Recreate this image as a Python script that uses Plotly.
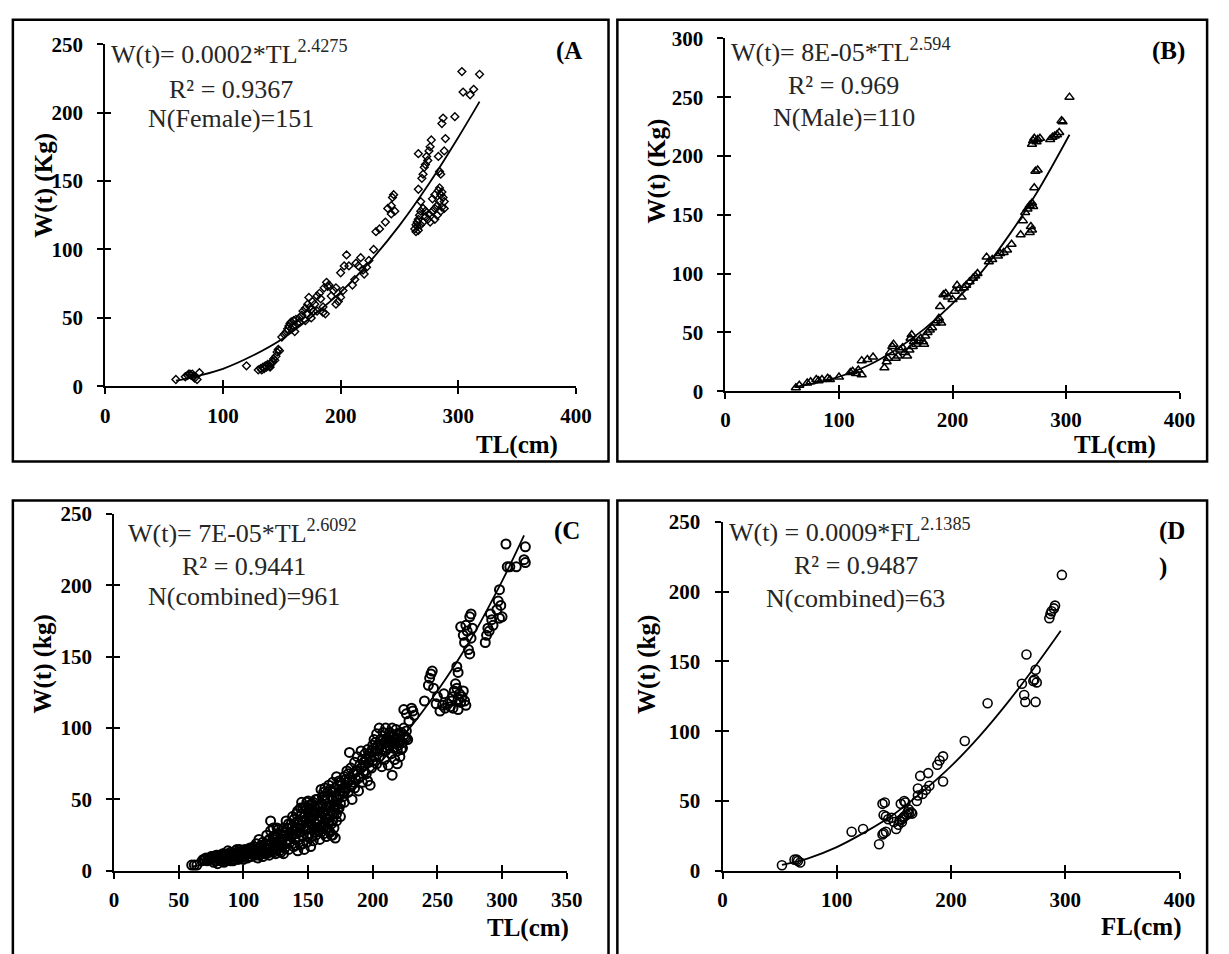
import plotly.graph_objects as go

W_PX, H_PX = 1229, 954


def px(x):
    return x / W_PX


def py(y):
    return 1 - y / H_PX


FONT = "Liberation Serif, Times New Roman, serif"

# ---------------- data ----------------
# (A) Female: TL (cm), W (kg)
female_pts = [
    (60, 5), (68, 7), (70, 8), (71, 9), (72, 9), (73, 8), (74, 9), (75, 7), (76, 6), (78, 5), (80, 10),
    (120, 15),
    (130, 12), (132, 13), (133, 12), (134, 14), (135, 13), (136, 15), (137, 14), (138, 16), (140, 15),
    (140, 14), (141, 17), (142, 18), (143, 20), (144, 19), (145, 22), (146, 25), (147, 27), (148, 26),
    (150, 36), (152, 38), (154, 40), (155, 42), (156, 44), (157, 46), (158, 47), (158, 42), (160, 48),
    (160, 44), (161, 40), (162, 49), (163, 46), (165, 47),
    (165, 50), (167, 52), (168, 55), (170, 57), (170, 48), (171, 53), (172, 60), (173, 65), (174, 58),
    (175, 56), (175, 50), (176, 62), (177, 55), (178, 60), (180, 66), (180, 55), (182, 68), (183, 64),
    (185, 58), (185, 54), (186, 72), (187, 53), (188, 76), (189, 73),
    (190, 74), (192, 66), (194, 70), (196, 72), (196, 60), (198, 62), (200, 65), (200, 83), (202, 70),
    (203, 88), (205, 96), (207, 88), (210, 74), (212, 78), (213, 90), (215, 88), (217, 94), (219, 85),
    (220, 82), (222, 87), (224, 92),
    (228, 100), (230, 113), (233, 115), (238, 120), (240, 130), (243, 132), (244, 138), (245, 140),
    (246, 128), (243, 126),
    (263, 115), (264, 118), (265, 120), (266, 122), (267, 125), (268, 128), (265, 117), (264, 113),
    (266, 114), (268, 118), (270, 120), (272, 124), (275, 126), (278, 128), (280, 130), (282, 132),
    (284, 135), (285, 140), (286, 142), (287, 138), (288, 130), (280, 122), (282, 125), (285, 128),
    (286, 131), (288, 135), (283, 143), (284, 145), (280, 140), (278, 137), (276, 120), (274, 122),
    (272, 128), (270, 130), (266, 144), (268, 135), (270, 155), (271, 160), (272, 162), (273, 168),
    (274, 165), (275, 172), (276, 175), (277, 180), (266, 170), (269, 152), (283, 168), (284, 157),
    (285, 155), (286, 192), (287, 196), (288, 172), (289, 181), (297, 197), (303, 230), (304, 215),
    (310, 213), (313, 217), (318, 228),
]

# (B) Male: TL (cm), W (kg)
male_pts = [
    (62, 3), (65, 5), (72, 7), (75, 8), (80, 10), (82, 9), (85, 10), (90, 11), (92, 10), (100, 12),
    (110, 16), (112, 17), (115, 15), (117, 18), (120, 14), (120, 26), (125, 27), (130, 29),
    (140, 20), (142, 25), (143, 28), (145, 33), (147, 38), (148, 40), (150, 28), (152, 30), (154, 35),
    (156, 37), (158, 33), (160, 30), (162, 35), (163, 45), (164, 48), (165, 38), (166, 42), (168, 40),
    (170, 43), (172, 45), (174, 42), (175, 40), (176, 47), (178, 50), (180, 52), (182, 54), (185, 58),
    (187, 60), (188, 62), (189, 72), (190, 58), (192, 82), (194, 83), (196, 80), (200, 78), (202, 85),
    (204, 90), (206, 87), (208, 80), (210, 88), (212, 90), (215, 93), (218, 96), (220, 98), (222, 100),
    (230, 114), (232, 110), (235, 112), (240, 115), (242, 117), (245, 118), (248, 120), (252, 125),
    (260, 133), (262, 145), (264, 152), (266, 155), (268, 158), (270, 160), (271, 157), (269, 140),
    (268, 135), (270, 137), (272, 173), (273, 187), (275, 188), (270, 210), (271, 213), (272, 215),
    (274, 212), (275, 214), (277, 215), (286, 214), (288, 216), (290, 217), (292, 218), (294, 220),
    (296, 230), (297, 229), (303, 250),
]

# (C) Combined: TL (cm), W (kg)
combined_tl_pts = [
    (60, 4), (62, 4), (64, 4), (68, 7), (70, 8), (72, 7), (74, 9), (75, 8), (76, 10), (78, 9), (79, 7),
    (80, 11), (81, 8), (82, 10), (83, 9), (84, 12), (85, 8), (86, 11), (87, 10), (88, 12), (89, 9),
    (90, 13), (91, 10), (92, 12), (93, 8), (94, 14), (95, 11), (96, 13), (97, 9), (98, 12), (99, 10),
    (100, 14), (100, 8), (77, 6), (85, 6), (92, 7), (88, 14), (95, 15), (80, 5), (90, 7), (97, 15),
    (69, 8), (71, 9), (73, 8), (75, 10), (77, 9), (79, 11), (81, 10), (83, 11), (85, 12), (87, 9),
    (89, 11), (91, 12), (93, 11), (95, 12), (97, 11), (99, 13), (82, 7), (86, 7), (90, 9), (94, 10),
    (98, 9), (96, 8), (84, 10), (88, 8),
    (101, 11), (102, 13), (103, 9), (104, 15), (105, 12), (106, 10), (107, 14), (108, 17), (109, 11),
    (110, 13), (110, 19), (111, 9), (112, 15), (113, 12), (114, 18), (115, 20), (115, 10), (116, 14),
    (117, 16), (118, 12), (119, 21), (120, 18), (120, 11), (121, 35), (121, 28), (122, 14), (123, 24),
    (124, 16), (125, 20), (125, 12), (126, 26), (127, 18), (128, 14), (129, 22), (130, 17), (130, 28),
    (131, 12), (132, 25), (133, 19), (134, 30), (135, 15), (123, 30), (127, 29), (105, 16), (112, 22),
    (118, 25),
    (101, 15), (103, 12), (104, 10), (106, 13), (107, 16), (108, 12), (109, 15), (111, 14), (112, 11),
    (113, 17), (114, 13), (116, 12), (117, 19), (118, 15), (119, 13), (120, 22), (121, 16), (122, 20),
    (123, 13), (124, 22), (126, 15), (127, 21), (128, 18), (129, 13), (130, 21), (131, 24), (132, 16),
    (133, 27), (134, 22), (135, 25), (135, 33), (133, 35), (131, 30), (129, 26), (126, 30),
    (136, 20), (137, 33), (138, 26), (138, 38), (139, 17), (140, 30), (140, 22), (141, 40), (142, 14),
    (142, 35), (143, 27), (144, 44), (144, 18), (145, 32), (145, 48), (146, 24), (147, 38), (147, 15),
    (148, 45), (148, 29), (149, 20), (150, 41), (150, 34), (150, 49), (151, 26), (152, 43), (152, 17),
    (153, 37), (154, 21), (154, 48), (155, 30), (155, 40), (156, 25), (156, 50), (157, 35), (157, 45),
    (158, 28), (159, 41), (159, 22), (160, 38), (160, 57), (161, 32), (161, 47), (162, 26), (162, 55),
    (163, 43), (163, 58), (164, 36), (164, 24), (165, 50), (165, 30), (166, 45), (166, 60), (167, 27),
    (167, 38), (168, 52), (168, 33), (169, 25), (169, 62), (170, 46), (170, 40), (171, 58), (171, 23),
    (172, 66), (172, 35), (173, 50), (174, 63), (174, 44), (175, 56), (175, 47), (153, 24), (146, 35),
    (149, 43), (143, 22), (139, 28),
    (136, 27), (137, 24), (138, 31), (139, 36), (140, 18), (141, 26), (142, 42), (143, 33), (144, 30),
    (145, 40), (146, 44), (146, 19), (147, 31), (148, 36), (149, 48), (150, 24), (150, 30), (151, 38),
    (151, 46), (152, 33), (153, 29), (153, 47), (154, 42), (155, 27), (155, 45), (156, 33), (156, 40),
    (157, 30), (157, 50), (158, 44), (158, 36), (159, 31), (160, 27), (160, 45), (161, 37), (161, 52),
    (162, 41), (162, 30), (163, 34), (163, 50), (164, 45), (164, 29), (165, 37), (165, 55), (166, 28),
    (166, 34), (167, 46), (167, 57), (168, 42), (168, 25), (169, 35), (169, 50), (170, 30), (170, 55),
    (171, 45), (172, 40), (172, 52), (173, 60), (173, 43), (174, 53), (175, 62), (175, 38),
    (176, 60), (177, 52), (178, 66), (178, 48), (179, 58), (180, 70), (180, 62), (181, 55), (182, 83),
    (182, 64), (183, 72), (184, 60), (184, 50), (185, 68), (186, 76), (186, 58), (187, 64), (188, 80),
    (188, 70), (189, 56), (190, 74), (190, 66), (191, 84), (192, 78), (192, 62), (193, 70), (194, 82),
    (194, 74), (195, 68), (196, 63), (196, 85), (197, 76), (198, 60), (198, 80), (199, 72), (200, 88),
    (200, 77),
    (177, 58), (178, 55), (179, 64), (181, 68), (183, 60), (185, 62), (187, 70), (189, 65), (191, 72),
    (193, 76), (195, 78), (197, 82), (199, 84), (201, 80),
    (201, 92), (202, 84), (203, 96), (203, 75), (204, 88), (205, 100), (205, 80), (206, 92), (207, 85),
    (207, 73), (208, 97), (209, 90), (209, 78), (210, 100), (210, 84), (211, 93), (212, 88), (212, 74),
    (213, 97), (214, 82), (214, 90), (215, 67), (215, 100), (216, 86), (216, 94), (217, 78), (218, 92),
    (218, 99), (219, 84), (220, 95), (220, 88), (221, 80), (222, 97), (223, 90), (224, 100), (225, 94),
    (226, 98), (227, 92), (223, 86), (219, 75),
    (202, 90), (204, 84), (206, 88), (208, 92), (210, 90), (211, 86), (213, 92), (215, 95), (217, 90),
    (219, 96), (221, 92), (222, 85), (224, 95), (226, 93),
    (224, 113), (226, 110), (228, 105), (230, 114), (231, 112), (232, 109), (240, 119), (243, 130),
    (244, 135), (245, 138), (246, 140), (247, 128), (249, 117), (250, 122), (252, 112), (254, 116),
    (255, 124), (256, 114), (258, 117), (260, 115), (261, 119), (262, 122), (263, 126), (264, 131),
    (265, 128), (266, 120), (267, 124), (268, 118), (269, 122), (270, 126), (271, 119), (272, 116),
    (262, 114), (266, 113), (265, 143), (266, 139), (268, 171), (270, 165), (271, 160), (272, 172),
    (273, 168), (274, 155), (275, 152), (275, 178), (276, 163), (277, 170), (276, 180), (287, 160),
    (288, 165), (289, 170), (290, 168), (291, 180), (292, 176), (293, 172), (296, 183), (297, 189),
    (298, 197), (298, 177), (299, 186), (300, 178), (303, 229), (304, 213), (306, 213), (311, 213),
    (317, 218), (318, 216), (318, 227),
]

# (D) Combined: FL (cm), W (kg)
combined_fl_pts = [
    (52, 4), (63, 8), (65, 8), (66, 7), (68, 6), (113, 28), (123, 30), (137, 19), (140, 26), (141, 27),
    (143, 28), (140, 48), (142, 49), (141, 40), (143, 39), (145, 37), (148, 38), (150, 35), (152, 30),
    (154, 33), (155, 36), (156, 48), (157, 35), (157, 37), (158, 38), (159, 50), (159, 39), (160, 49),
    (161, 40), (162, 42), (163, 41), (163, 44), (165, 42), (166, 41), (170, 50), (171, 54), (171, 59),
    (173, 68), (175, 55), (178, 58), (180, 70), (181, 61), (188, 76), (190, 79), (193, 82), (193, 64),
    (212, 93), (232, 120), (262, 134), (264, 126), (265, 121), (266, 155), (272, 136), (273, 137),
    (274, 121), (274, 144), (275, 135), (286, 181), (287, 184), (288, 186), (290, 188), (291, 190),
    (297, 212),
]

# trendlines as drawn in the reference
trend_a_tl = [60, 80, 100, 125, 150, 175, 200, 225, 250, 275, 300, 318]
trend_a_w = [4.1, 7.9, 12.8, 22.3, 34.4, 50.6, 68.8, 91.3, 117.6, 148, 182, 208]
trend_b_tl = [62, 80, 100, 125, 150, 175, 200, 225, 250, 275, 303]
trend_b_w = [3.6, 7.0, 12.3, 21.7, 35.3, 52.8, 74.4, 100.6, 132.9, 170, 218]
trend_c_tl = [60, 80, 100, 125, 150, 175, 200, 225, 250, 275, 300, 317]
trend_c_w = [3.0, 6.4, 11.6, 20.7, 33.3, 49.8, 70.6, 96, 126, 161, 203, 235]
trend_d_fl = [52, 75, 100, 125, 150, 175, 200, 225, 250, 275, 296]
trend_d_w = [4.2, 9.0, 17.0, 27.9, 40.6, 56.7, 75, 96.5, 121, 148, 172]

eq_lines = {
    "A": ["W(t)= 0.0002*TL<sup>2.4275</sup>", "R² = 0.9367", "N(Female)=151"],
    "B": ["W(t)= 8E-05*TL<sup>2.594</sup>", "R² = 0.969", "N(Male)=110"],
    "C": ["W(t)= 7E-05*TL<sup>2.6092</sup>", "R² = 0.9441", "N(combined)=961"],
    "D": ["W(t) = 0.0009*FL<sup>2.1385</sup>", "R² = 0.9487", "N(combined)=63"],
}

# ---------------- layout geometry (pixels) ----------------
panels = [
    dict(key="A", pts=female_pts, tx=trend_a_tl, ty=trend_a_w, symbol="diamond-open", msize=6, mlw=1.4,
         xpx=(102, 581), ypx=(384, 33), xr=400, xd=100, yr=250, yd=50,
         box=(8, 8, 614, 461), xtitle="TL(cm)", ytitle="W(t) (Kg)",
         xt=(521, 444), yt=(39, 178), lab=[("(A", 589, 40)],
         eq=[(106, 42), (230, 79), (230, 109)]),
    dict(key="B", pts=male_pts, tx=trend_b_tl, ty=trend_b_w, symbol="triangle-up-open", msize=8, mlw=1.5,
         xpx=(733, 1195), ypx=(389, 27), xr=400, xd=100, yr=300, yd=50,
         box=(623, 8, 1223, 461), xtitle="TL(cm)", ytitle="W(t) (Kg)",
         xt=(1129, 444), yt=(663, 163), lab=[("(B)", 1203, 40)],
         eq=[(737, 40), (853, 75), (854, 108)]),
    dict(key="C", pts=combined_tl_pts, tx=trend_c_tl, ty=trend_c_w, symbol="circle-open", msize=9, mlw=2.0,
         xpx=(111, 571.5), ypx=(881, 515), xr=350, xd=50, yr=250, yd=50,
         box=(8, 501, 614, 980), xtitle="TL(cm)", ytitle="W(t) (kg)",
         xt=(532, 940), yt=(39, 669), lab=[("(C", 587, 532)],
         eq=[(123, 533), (243, 569), (243, 600)]),
    dict(key="D", pts=combined_fl_pts, tx=trend_d_fl, ty=trend_d_w, symbol="circle-open", msize=9, mlw=1.6,
         xpx=(730, 1195), ypx=(881, 523), xr=400, xd=100, yr=250, yd=50,
         box=(623, 501, 1223, 980), xtitle="FL(cm)", ytitle="W(t) (kg)",
         xt=(1156, 939), yt=(653, 669), lab=[("(D", 1203, 532), (")", 1184, 569)],
         eq=[(735, 532), (866, 568), (865, 602)]),
]

fig = go.Figure()
layout = dict(
    width=W_PX, height=H_PX, margin=dict(l=0, r=0, t=0, b=0),
    paper_bgcolor="white", plot_bgcolor="white", showlegend=False,
    font=dict(family=FONT, color="black"),
)
annotations = []
shapes = []

for i, p in enumerate(panels, start=1):
    ov = i + 4
    xs = [q[0] for q in p["pts"]]
    ys = [q[1] for q in p["pts"]]
    xa, ya = f"x{i}", f"y{i}"
    fig.add_trace(go.Scatter(
        x=xs, y=ys, mode="markers", xaxis=xa, yaxis=ya, cliponaxis=False,
        marker=dict(symbol=p["symbol"], size=p["msize"], color="black", line=dict(width=p["mlw"])),
    ))
    fig.add_trace(go.Scatter(
        x=p["tx"], y=p["ty"], mode="lines", xaxis=xa, yaxis=ya, cliponaxis=False,
        line=dict(color="black", width=1.8, shape="spline", smoothing=1.0),
    ))
    fig.add_trace(go.Scatter(x=[], y=[], xaxis=f"x{ov}", yaxis=f"y{ov}", hoverinfo="skip"))

    xdom = [px(p["xpx"][0]), px(p["xpx"][1])]
    ydom = [py(p["ypx"][0]), py(p["ypx"][1])]
    common = dict(showgrid=False, zeroline=False, showline=True, linecolor="black", linewidth=2,
                  ticks="outside", ticklen=6, tickwidth=2, tickcolor="black", fixedrange=True,
                  tickfont=dict(family=FONT, size=21, color="black", weight="bold"))
    layout[f"xaxis{i}"] = dict(common, domain=xdom, range=[0, p["xr"]], dtick=p["xd"], tick0=0,
                               anchor=ya, ticklabelstandoff=3)
    layout[f"yaxis{i}"] = dict(common, domain=ydom, range=[0, p["yr"]], dtick=p["yd"], tick0=0,
                               anchor=xa, ticklabelstandoff=10)
    inner = dict(showgrid=False, zeroline=False, showline=False, ticks="inside", ticklen=6,
                 tickwidth=2, tickcolor="black", showticklabels=False, fixedrange=True)
    layout[f"xaxis{ov}"] = dict(inner, overlaying=xa, range=[0, p["xr"]], dtick=p["xd"], tick0=0,
                                anchor=f"y{ov}")
    layout[f"yaxis{ov}"] = dict(inner, overlaying=ya, range=[0, p["yr"]], dtick=p["yd"], tick0=0,
                                anchor=f"x{ov}")

    x0, y0, x1, y1 = p["box"]
    shapes.append(dict(type="rect", xref="paper", yref="paper", x0=px(x0), x1=px(x1),
                       y0=py(y1), y1=py(y0), line=dict(color="black", width=2.5)))

    annotations.append(dict(text=f"<b>{p['xtitle']}</b>", x=px(p["xt"][0]), y=py(p["xt"][1]),
                            xref="paper", yref="paper", showarrow=False, xanchor="center",
                            yanchor="middle", font=dict(family=FONT, size=25, color="black")))
    annotations.append(dict(text=f"<b>{p['ytitle']}</b>", x=px(p["yt"][0]), y=py(p["yt"][1]),
                            xref="paper", yref="paper", showarrow=False, xanchor="center",
                            yanchor="middle", textangle=-90,
                            font=dict(family=FONT, size=25, color="black")))
    for txt, lx, ly in p["lab"]:
        annotations.append(dict(text=f"<b>{txt}</b>", x=px(lx), y=py(ly), xref="paper", yref="paper",
                                showarrow=False, xanchor="right", yanchor="middle",
                                font=dict(family=FONT, size=25, color="black")))
    lines = eq_lines[p["key"]]
    for j, (txt, (ex, ey)) in enumerate(zip(lines, p["eq"])):
        annotations.append(dict(text=txt, x=px(ex), y=py(ey), xref="paper", yref="paper",
                                showarrow=False, xanchor="left" if j == 0 else "center",
                                yanchor="middle",
                                font=dict(family=FONT, size=26, color="#262626")))

layout["annotations"] = annotations
layout["shapes"] = shapes
fig.update_layout(**layout)
fig.write_html("out.html", config={"displayModeBar": False},
               post_script="document.body.style.margin='0';")
